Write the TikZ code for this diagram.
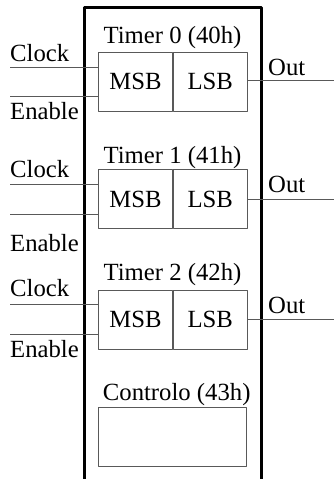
\documentclass[tikz,border=0pt]{standalone}
\usepackage{fontspec}
\setmainfont{Liberation Serif}
\usetikzlibrary{positioning}

\tikzset{
  txt/.style={font=\fontsize{24.8}{28}\selectfont, inner sep=0pt},
  reg/.style={txt, draw=black!65, line width=0.7bp, minimum width=74bp, minimum height=59bp},
  pin/.style={txt, anchor=base west},
  title/.style={txt, anchor=base},
  wire/.style={draw=black!65, line width=0.7bp}
}

\begin{document}
\begin{tikzpicture}[line join=round,x=1bp,y=-1bp]
  \useasboundingbox (0,0) rectangle (334,479);
  % chip outline, open at the bottom
  \draw [line width=3bp] (84,480) |- (261.5,8) -- (261.5,480);

  % Timer 0
  \node[title] (t0) at (172.5,44) {Timer 0 (40h)};
  \node[reg] (msb0) at (135.5,81.5) {MSB};
  \node[reg,right=0pt of msb0] (lsb0) {LSB};
  \coordinate (clk0) at (10,67);
  \coordinate (en0) at (10,96.5);
  \coordinate (out0) at (334,80);
  \draw[wire] (clk0) -- (clk0 -| msb0.west);
  \draw[wire] (en0) -- (en0 -| msb0.west);
  \draw[wire] (out0 -| lsb0.east) -- (out0);
  \node[pin] (lclk0) at (10,61.7) {Clock};
  \node[pin] (len0) at (10,120) {Enable};
  \node[pin] (lout0) at (268,76) {Out};

  % Timer 1
  \node[title] (t1) at (172.5,163.3) {Timer 1 (41h)};
  \node[reg] (msb1) at (135.5,199) {MSB};
  \node[reg,right=0pt of msb1] (lsb1) {LSB};
  \coordinate (clk1) at (10,184);
  \coordinate (en1) at (10,214);
  \coordinate (out1) at (334,199);
  \draw[wire] (clk1) -- (clk1 -| msb1.west);
  \draw[wire] (en1) -- (en1 -| msb1.west);
  \draw[wire] (out1 -| lsb1.east) -- (out1);
  \node[pin] (lclk1) at (10,177.3) {Clock};
  \node[pin] (len1) at (10,251.7) {Enable};
  \node[pin] (lout1) at (268,192.7) {Out};

  % Timer 2
  \node[title] (t2) at (172.5,280) {Timer 2 (42h)};
  \node[reg] (msb2) at (135.5,319.7) {MSB};
  \node[reg,right=0pt of msb2] (lsb2) {LSB};
  \coordinate (clk2) at (10,304.3);
  \coordinate (en2) at (10,334.3);
  \coordinate (out2) at (334,319);
  \draw[wire] (clk2) -- (clk2 -| msb2.west);
  \draw[wire] (en2) -- (en2 -| msb2.west);
  \draw[wire] (out2 -| lsb2.east) -- (out2);
  \node[pin] (lclk2) at (10,296.7) {Clock};
  \node[pin] (len2) at (10,357.3) {Enable};
  \node[pin] (lout2) at (268,313.3) {Out};

  % control register
  \node[title] (tc) at (176.7,400) {Controlo (43h)};
  \node[reg,minimum width=148bp] (ctrl) at (172.5,437) {};
\end{tikzpicture}
\end{document}
